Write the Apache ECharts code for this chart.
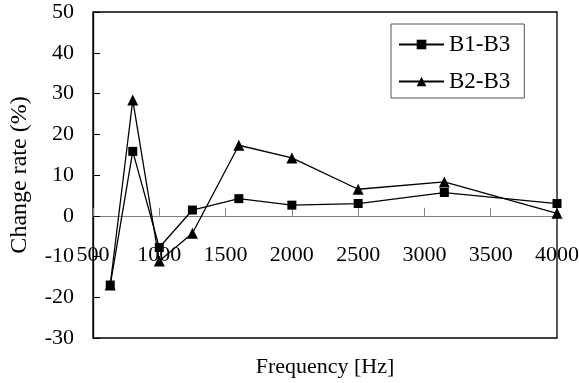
<!DOCTYPE html>
<html>
<head>
<meta charset="utf-8">
<script src="https://cdn.jsdelivr.net/npm/echarts@6/dist/echarts.min.js"></script>
<style>html,body{margin:0;padding:0;background:#fff}#c{width:579px;height:383px}</style>
</head>
<body>
<div id="c"></div>
<script>
var frequencies = [630, 800, 1000, 1250, 1600, 2000, 2500, 3150, 4000];
var b1b3 = [-17.0, 15.8, -7.8, 1.4, 4.2, 2.6, 3.0, 5.7, 3.0];
var b2b3 = [-17.0, 28.4, -11.1, -4.3, 17.3, 14.2, 6.5, 8.3, 0.6];
var seriesNames = ['B1-B3', 'B2-B3'];
var xTicks = {min: 500, max: 4000, interval: 500};
var yTicks = {min: -30, max: 50, interval: 10};

function pairs(xs, ys) { return xs.map(function (x, i) { return [x, ys[i]]; }); }
function plain(v) { return String(v); }

var font = 'Liberation Serif';
var gridTop = 12, gridBottom = 45, H = 383;
var plotH = H - gridTop - gridBottom;
// shift the x axis up so it sits on the y = 0 line
var zeroOffset = -plotH * (0 - yTicks.min) / (yTicks.max - yTicks.min);

var chart = echarts.init(document.getElementById('c'), null, {renderer: 'canvas'});
chart.setOption({
  animation: false,
  backgroundColor: '#fff',
  grid: {left: 93, right: 22, top: gridTop, bottom: gridBottom, containLabel: false, outerBoundsMode: 'none',
         show: true, borderColor: '#000', borderWidth: 1.3, backgroundColor: 'transparent'},
  legend: {
    orient: 'vertical', left: 391, top: 24,
    padding: [9, 14, 5, 7], itemGap: 14, itemWidth: 45, itemHeight: 12,
    borderColor: '#555', borderWidth: 1,
    textStyle: {fontFamily: font, fontSize: 23, color: '#000', lineHeight: 23},
    data: seriesNames
  },
  xAxis: {
    type: 'value', min: xTicks.min, max: xTicks.max, interval: xTicks.interval,
    offset: zeroOffset,
    axisLine: {onZero: false, lineStyle: {color: '#808080', width: 1}},
    axisTick: {inside: true, length: 8, lineStyle: {color: '#808080'}},
    splitLine: {show: false},
    axisLabel: {fontFamily: font, fontSize: 22, color: '#000', margin: 28, formatter: plain},
    name: 'Frequency [Hz]', nameLocation: 'middle', nameGap: 140,
    nameTextStyle: {fontFamily: font, fontSize: 22, color: '#000'}
  },
  yAxis: {
    type: 'value', min: yTicks.min, max: yTicks.max, interval: yTicks.interval,
    axisLine: {show: true, lineStyle: {color: '#000', width: 1.3}},
    axisTick: {show: true, inside: true, length: 7, lineStyle: {color: '#000'}},
    splitLine: {show: false},
    axisLabel: {fontFamily: font, fontSize: 22, color: '#000', margin: 19, formatter: plain},
    name: 'Change rate (%)', nameLocation: 'middle', nameGap: 61,
    nameTextStyle: {fontFamily: font, fontSize: 24, color: '#000'}
  },
  series: [
    {name: seriesNames[0], type: 'line', z: 4, data: pairs(frequencies, b1b3),
     symbol: 'rect', symbolSize: 9, showAllSymbol: true,
     lineStyle: {color: '#000', width: 1.3}, itemStyle: {color: '#000'}},
    {name: seriesNames[1], type: 'line', z: 3, data: pairs(frequencies, b2b3),
     symbol: 'triangle', symbolSize: 11, showAllSymbol: true,
     lineStyle: {color: '#000', width: 1.3}, itemStyle: {color: '#000'}}
  ]
});
</script>
</body>
</html>
